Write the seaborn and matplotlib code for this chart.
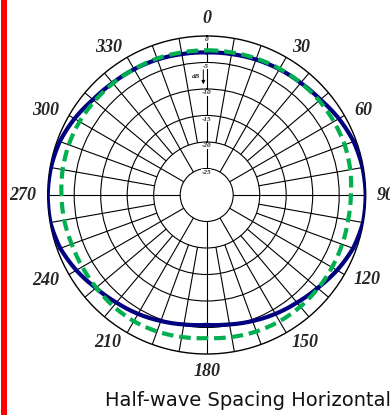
import numpy as np
import pandas as pd
import matplotlib
matplotlib.use("Agg")
import matplotlib.pyplot as plt
from matplotlib.transforms import offset_copy
from matplotlib.patches import Rectangle
import seaborn as sns

# Bearing of each sample, degrees clockwise from north
angles_deg = [0, 10, 20, 30, 40, 50, 60, 70, 80, 90, 100, 110,
              120, 130, 140, 150, 160, 170, 180, 190, 200, 210, 220, 230,
              240, 250, 260, 270, 280, 290, 300, 310, 320, 330, 340, 350]

# Solid pattern (dB)
solid_db = [-3.1, -3.0, -2.8, -2.6, -2.4, -2.0, -1.2, -0.5, -0.15, 0.0, -0.05, -0.6,
            -1.6, -2.7, -3.5, -4.1, -4.7, -5.2, -5.5, -5.2, -4.7, -4.1, -3.5, -2.7,
            -1.6, -0.6, -0.05, 0.0, -0.15, -0.5, -1.2, -2.0, -2.4, -2.6, -2.8, -3.0]

# Dashed pattern (dB)
dashed_db = [-2.7, -2.7, -2.6, -2.5, -2.4, -2.3, -2.3, -2.3, -2.5, -2.8, -2.9, -2.8,
             -2.7, -2.6, -2.5, -2.5, -2.6, -2.8, -3.0, -2.8, -2.6, -2.5, -2.6, -2.8,
             -2.9, -2.9, -2.7, -2.6, -2.4, -2.3, -2.3, -2.4, -2.5, -2.6, -2.6, -2.7]

angle_ticks = [0, 30, 60, 90, 120, 150, 180, 210, 240, 270, 300, 330]
angle_labels = ["0", "30", "60", "90", "120", "150", "180", "210", "240", "270", "300", "330"]
ring_labels = ["0", "-5", "-10", "-15", "-20", "-25"]
ring_levels = [0, -5, -10, -15, -20, -25]

title_text = "Half-wave Spacing Horizontal"

# Closed loops for plotting
theta = np.deg2rad(np.append(angles_deg, 360))
df = pd.DataFrame({
    "theta": np.concatenate([theta, theta]),
    "db": np.concatenate([np.append(solid_db, solid_db[0]), np.append(dashed_db, dashed_db[0])]),
    "series": ["solid"] * len(theta) + ["dashed"] * len(theta),
})

sns.set_style("white")
plt.rcParams["font.family"] = ["DejaVu Sans"]

W, H = 390, 415
fig = plt.figure(figsize=(W / 100, H / 100), dpi=100)
cx, cy, R = 206.7, 195.0, 159.0
ax = fig.add_axes([(cx - R) / W, (H - cy - R) / H, 2 * R / W, 2 * R / H], projection="polar")
ax.set_theta_zero_location("N")
ax.set_theta_direction(-1)
ax.set_ylim(-30, 0)
ax.set_xticks([])
ax.set_yticks([-25, -20, -15, -10, -5])
ax.set_yticklabels([])
ax.xaxis.grid(False)
ax.yaxis.grid(True, color="black", lw=0.8)
ax.spines["polar"].set_color("black")
ax.spines["polar"].set_linewidth(1.0)
ax.set_facecolor("white")

# Spokes: every 10 deg on the outer rings, every 30 deg on the innermost ring
ax.vlines(np.deg2rad(np.arange(0, 360, 10)), -20, 0, colors="black", lw=0.8, zorder=1)
ax.vlines(np.deg2rad(np.arange(0, 360, 30)), -25, -20, colors="black", lw=0.8, zorder=1)

# Pattern curves
sns.lineplot(data=df[df.series == "solid"], x="theta", y="db", ax=ax, color="#000080",
             lw=3.0, estimator=None, sort=False, legend=False, zorder=4)
sns.lineplot(data=df[df.series == "dashed"], x="theta", y="db", ax=ax, color="#00b050",
             lw=3.0, estimator=None, sort=False, legend=False, zorder=5)
ax.lines[-1].set_dashes([2.8, 1.4])
ax.lines[-1].set_dash_capstyle("butt")
# follow the polar arc between samples instead of straight chords
for ln in ax.lines[-2:]:
    ln.get_path()._interpolation_steps = 16
ax.set_xlabel("")
ax.set_ylabel("")

serif = ["Liberation Serif", "DejaVu Serif"]

# Bearing labels around the rim
r_lab = 170 / R * 30 - 30
for ang, lab in zip(angle_ticks, angle_labels):
    t = np.deg2rad(ang)
    if ang == 0:
        ha, va, r = "center", "baseline", 172 / R * 30 - 30
    elif ang == 180:
        ha, va, r = "center", "top", 168 / R * 30 - 30
    elif ang < 180:
        ha, va, r = "left", "center", r_lab
    else:
        ha, va, r = "right", "center", r_lab
    ax.text(t, r, lab, ha=ha, va=va, fontsize=13, family=serif, style="italic",
            weight="bold", clip_on=False)

# Level labels along the north spoke
lab_tr = offset_copy(ax.transData, fig=fig, x=-0.5, y=-3.8, units="dots")
for lev, lab in zip(ring_levels, ring_labels):
    ax.text(0, lev, lab, transform=lab_tr, ha="center", va="center", fontsize=5.2,
            family=serif, style="italic", weight="bold", zorder=3,
            bbox=dict(facecolor="white", edgecolor="none", pad=0.3))

# dB marker with downward arrow
arr_tr = offset_copy(ax.transData, fig=fig, x=-3.4, units="dots")
ax.annotate("", xy=(0, -9.1), xytext=(0, -6.4), xycoords=arr_tr, textcoords=arr_tr,
            arrowprops=dict(arrowstyle="-|>", color="black", lw=0.7, mutation_scale=5,
                            shrinkA=0, shrinkB=0), zorder=3)
db_tr = offset_copy(ax.transData, fig=fig, x=-11, units="dots")
ax.text(0, -7.7, "dB", transform=db_tr, ha="center", va="center", fontsize=5,
        family=serif, style="italic", weight="bold", zorder=3)

# Caption
fig.text(105 / W, 1 - 406 / H, title_text, ha="left", va="baseline", fontsize=14,
         family=["DejaVu Sans"], color="#111111")

# Red bar on the left edge
fig.add_artist(Rectangle((1 / W, 0), 6 / W, 1, transform=fig.transFigure,
                         facecolor="#ff0000", edgecolor="none"))

fig.savefig("out.png", dpi=100, facecolor="white")
